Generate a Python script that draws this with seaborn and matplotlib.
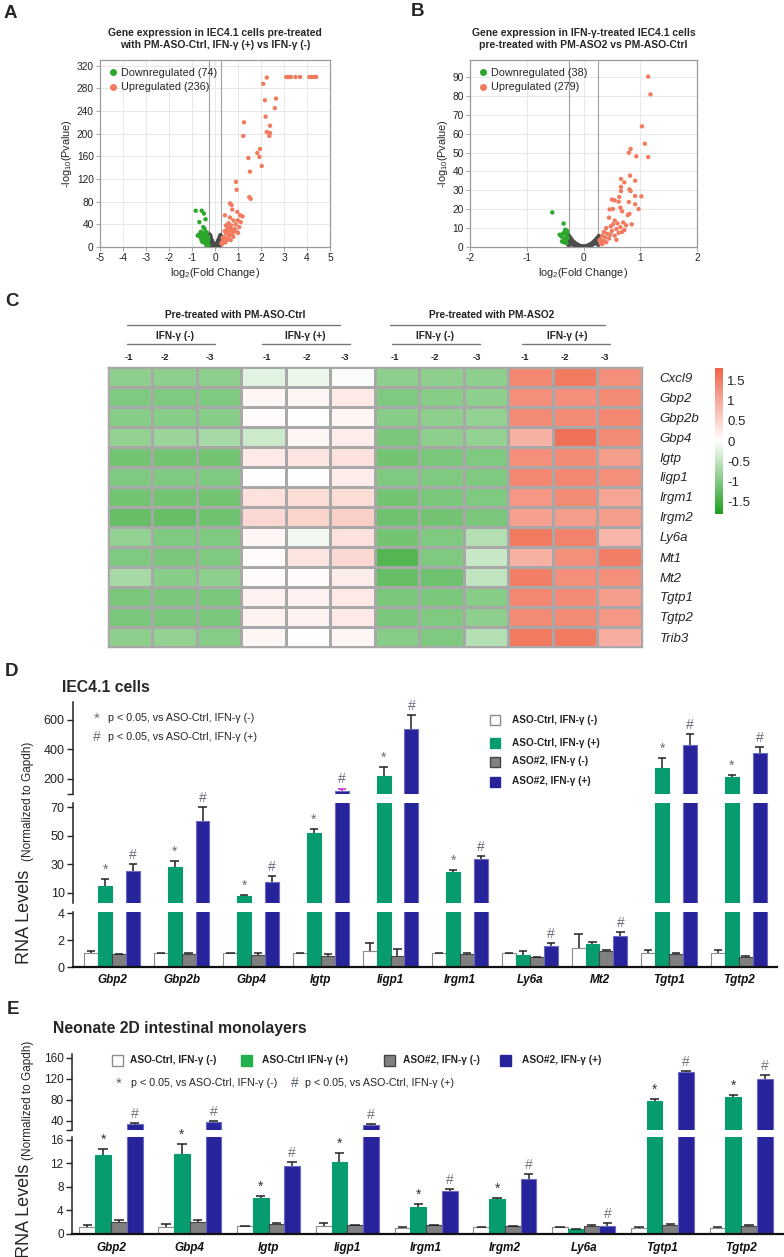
import numpy as np
import pandas as pd
import matplotlib
matplotlib.use('Agg')
import matplotlib.pyplot as plt
import seaborn as sns
from matplotlib.colors import LinearSegmentedColormap
from matplotlib.patches import Rectangle
from matplotlib.lines import Line2D

# ---------------- data: volcano A (PM-ASO-Ctrl, IFN+ vs IFN-) ----------------
a_ns_x = [-0.25, -0.24, -0.23, -0.22, -0.21, -0.2, -0.19, -0.18, -0.17, -0.16, -0.15, -0.14, -0.13, -0.12,
          -0.11, -0.1, -0.09, -0.08, -0.07, -0.06, -0.05, -0.04, -0.03, -0.02, -0.01, 0.0, 0.01, 0.02, 0.03,
          0.04, 0.05, 0.06, 0.07, 0.08, 0.09, 0.1, 0.11, 0.12, 0.13, 0.14, 0.15, 0.16, 0.17, 0.18, 0.19, 0.2,
          0.21, 0.22, 0.23, 0.24, 0.25, -0.22, -0.19, 0.17, 0.23, -0.24, 0.12, -0.13, 0.2, -0.2]
a_ns_y = [18, 12, 22, 8, 15, 5, 19, 10, 14, 3, 9, 12, 6, 2, 8, 4, 7, 1, 5, 2, 3, 1, 2, 0.5, 1, 0.3, 1.2, 0.6, 2,
          1.5, 3, 2.5, 4, 6, 3, 7, 5, 9, 4, 11, 7, 13, 9, 15, 6, 17, 11, 19, 8, 21, 14, 17, 2, 2, 3, 4, 1, 11, 10, 12]
a_dn_x = [-0.84, -0.58, -0.48, -0.68, -0.41, -0.51, -0.45, -0.62, -0.55, -0.7, -0.45, -0.38, -0.5, -0.6, -0.35,
          -0.42, -0.3, -0.55, -0.33, -0.4, -0.28, -0.47, -0.65, -0.36, -0.3, -0.52, -0.43, -0.29, -0.75, -0.58]
a_dn_y = [64, 64, 59, 44, 49, 35, 32, 27, 25, 22, 24, 20, 18, 15, 14, 12, 10, 9, 6, 4, 3, 15, 18, 26, 18, 21, 8,
          13, 20, 12]
a_up_x = [3.1, 3.2, 3.3, 3.5, 3.7, 4.1, 4.2, 4.3, 4.4, 2.25, 2.1, 2.17, 2.65, 2.6, 2.2, 2.39, 2.25, 2.39, 2.36,
          1.26, 1.23, 1.96, 1.84, 1.93, 2.03, 1.45, 1.52, 0.91, 0.94, 1.49, 1.55, 0.65, 0.72, 0.75, 0.97, 0.43,
          0.65, 1.09, 1.2, 0.99, 1.12, 0.59, 0.8, 0.55, 0.7, 0.85, 0.62, 0.48, 0.75, 0.9, 0.4, 0.55, 0.68, 0.35,
          0.45, 0.3, 0.62, 0.8, 1.0, 0.52, 0.38, 0.72, 0.58, 0.33, 0.42, 0.5, 0.9, 0.65, 1.05, 0.28, 0.47, 0.78]
a_up_y = [300, 300, 300, 300, 300, 300, 300, 300, 300, 299, 288, 259, 262, 245, 230, 214, 203, 201, 196, 220,
          196, 173, 166, 159, 143, 157, 133, 115, 101, 88, 85, 77, 74, 66, 62, 56, 52, 56, 54, 47, 44, 42, 47,
          35, 38, 32, 28, 25, 22, 28, 18, 15, 12, 10, 8, 5, 20, 18, 25, 30, 14, 30, 22, 16, 28, 12, 40, 33, 35,
          7, 38, 26]

# ---------------- data: volcano B (IFN-treated, PM-ASO2 vs PM-ASO-Ctrl) ----------------
b_ns_x = [-0.27, -0.26, -0.25, -0.24, -0.23, -0.22, -0.21, -0.2, -0.19, -0.18, -0.17, -0.16, -0.15, -0.14,
          -0.13, -0.12, -0.11, -0.1, -0.09, -0.08, -0.07, -0.06, -0.05, -0.04, -0.03, -0.02, -0.01, 0.0, 0.01,
          0.02, 0.03, 0.04, 0.05, 0.06, 0.07, 0.08, 0.09, 0.1, 0.11, 0.12, 0.13, 0.14, 0.15, 0.16, 0.17, 0.18,
          0.19, 0.2, 0.21, 0.22, 0.23, 0.24, 0.25, 0.26, 0.27, -0.26, 0.26, -0.22, 0.22]
b_ns_y = [6.5, 4, 5.5, 2.5, 4.8, 1.5, 3.8, 2.2, 3.2, 1.2, 2.6, 1.8, 2.1, 0.8, 1.6, 1.1, 1.3, 0.5, 0.9, 0.6, 0.7,
          0.3, 0.4, 0.2, 0.25, 0.1, 0.15, 0.05, 0.12, 0.2, 0.3, 0.22, 0.45, 0.4, 0.65, 0.5, 0.9, 0.7, 1.2, 0.9,
          1.5, 1.1, 2.0, 1.4, 2.5, 1.7, 3.1, 2.0, 3.6, 2.4, 4.3, 2.8, 5.0, 3.3, 5.8, 1.0, 1.2, 3.0, 3.5]
b_dn_x = [-0.55, -0.35, -0.32, -0.29, -0.36, -0.39, -0.34, -0.31, -0.3, -0.33, -0.38, -0.28, -0.35, -0.3,
          -0.42, -0.29]
b_dn_y = [18.3, 12.4, 9.2, 8.5, 7.1, 5.6, 4.4, 3.5, 6.2, 8.0, 3.0, 4.8, 2.5, 2.0, 6.5, 7.3]
b_up_x = [1.14, 1.18, 1.03, 1.08, 1.14, 0.83, 0.8, 0.93, 0.82, 0.91, 0.66, 0.72, 0.66, 0.66, 0.81, 0.83, 0.63,
          0.91, 1.02, 0.5, 0.55, 0.62, 0.8, 0.91, 0.97, 0.46, 0.52, 0.65, 0.68, 0.78, 0.81, 0.45, 0.55, 0.6,
          0.7, 0.48, 0.4, 0.58, 0.65, 0.75, 0.36, 0.42, 0.5, 0.33, 0.38, 0.45, 0.3, 0.35, 0.55, 0.62, 0.72, 0.3,
          0.4, 0.52, 0.85, 0.68, 0.28, 0.33, 0.47, 0.58]
b_up_y = [90.2, 80.8, 63.9, 54.7, 47.6, 51.9, 49.9, 48.0, 37.8, 35.1, 36.0, 34.2, 31.8, 29.6, 30.5, 29.6, 26.5,
          27.0, 26.8, 25.1, 24.7, 24.0, 23.8, 22.6, 20.1, 19.9, 20.1, 20.8, 18.9, 16.9, 17.5, 15.5, 14, 12.5,
          13, 11, 10, 9.5, 10.5, 11.5, 8, 7, 8.5, 6, 5, 4.5, 4, 3, 6, 7.5, 9, 2, 2.5, 12, 12, 8, 3.5, 1.5, 6.5,
          3.8]

# ---------------- data: heatmap C (z-scores) ----------------
hm_genes = ['Cxcl9', 'Gbp2', 'Gbp2b', 'Gbp4', 'Igtp', 'Iigp1', 'Irgm1', 'Irgm2', 'Ly6a', 'Mt1', 'Mt2',
            'Tgtp1', 'Tgtp2', 'Trib3']
hm_samples = ['C-1', 'C-2', 'C-3', 'C+1', 'C+2', 'C+3', 'A-1', 'A-2', 'A-3', 'A+1', 'A+2', 'A+3']
hm_values = [
    [-0.9, -0.9, -0.9, -0.25, -0.15, -0.05, -0.9, -0.9, -0.9, 1.4, 1.55, 1.3],
    [-1.0, -1.0, -1.0, 0.1, 0.1, 0.25, -1.0, -0.95, -0.9, 1.3, 1.3, 1.35],
    [-0.95, -0.95, -0.95, 0.05, 0.0, 0.1, -0.95, -0.9, -0.85, 1.35, 1.35, 1.4],
    [-0.85, -0.8, -0.7, -0.4, 0.1, 0.2, -1.05, -0.9, -0.85, 0.9, 1.65, 1.35],
    [-1.1, -1.1, -1.1, 0.25, 0.3, 0.35, -1.1, -1.05, -1.0, 1.3, 1.35, 1.15],
    [-1.0, -1.0, -1.0, 0.0, 0.0, 0.2, -1.0, -1.0, -1.0, 1.4, 1.4, 1.3],
    [-1.1, -1.1, -1.1, 0.35, 0.4, 0.4, -1.1, -1.05, -1.0, 1.2, 1.35, 1.05],
    [-1.2, -1.2, -1.15, 0.45, 0.5, 0.55, -1.15, -1.1, -1.05, 1.1, 1.15, 1.15],
    [-0.85, -1.0, -1.0, 0.1, -0.1, 0.35, -1.1, -1.0, -0.6, 1.55, 1.45, 0.85],
    [-1.0, -1.05, -1.0, 0.05, 0.3, 0.45, -1.35, -1.0, -0.45, 0.9, 1.3, 1.5],
    [-0.7, -0.95, -0.9, 0.05, 0.05, 0.2, -1.2, -1.15, -0.5, 1.5, 1.3, 1.3],
    [-1.05, -1.05, -1.05, 0.15, 0.15, 0.25, -1.05, -1.05, -0.95, 1.4, 1.35, 1.15],
    [-1.05, -1.05, -1.05, 0.15, 0.15, 0.25, -1.05, -1.0, -0.9, 1.35, 1.35, 1.2],
    [-0.9, -0.85, -0.95, 0.1, 0.0, 0.1, -0.95, -1.0, -0.6, 1.55, 1.55, 0.95],
]
cb_ticks = [1.5, 1, 0.5, 0, -0.5, -1, -1.5]
cb_labels = ['1.5', '1', '0.5', '0', '-0.5', '-1', '-1.5']

# ---------------- data: bars D (IEC4.1 cells) ----------------
d_genes = ['Gbp2', 'Gbp2b', 'Gbp4', 'Igtp', 'Iigp1', 'Irgm1', 'Ly6a', 'Mt2', 'Tgtp1', 'Tgtp2']
d_ctrl_neg = [1.05, 1.05, 1.05, 1.05, 1.2, 1.05, 1.05, 1.43, 1.05, 1.05]
d_ctrl_neg_err = [0.15, 0.03, 0.03, 0.02, 0.6, 0.03, 0.03, 1.0, 0.2, 0.23]
d_ctrl_pos = [14.7, 27.8, 7.5, 52.1, 220, 24.3, 0.93, 1.7, 273, 216]
d_ctrl_pos_err = [4.7, 4.7, 0.8, 2.8, 60, 1.6, 0.25, 0.13, 68, 9]
d_aso_neg = [0.95, 1.0, 0.9, 0.8, 0.85, 1.0, 0.75, 1.2, 0.95, 0.75]
d_aso_neg_err = [0.03, 0.05, 0.15, 0.15, 0.5, 0.05, 0.03, 0.05, 0.07, 0.1]
d_aso_pos = [25.4, 60.3, 17.3, 115, 539, 33.4, 1.55, 2.33, 427, 375]
d_aso_pos_err = [4.7, 9.7, 4.4, 20, 96, 2.6, 0.25, 0.3, 78, 41]
d_aso_pos_errc = ['#222222', '#222222', '#222222', '#cc22cc', '#222222', '#222222', '#222222', '#222222',
                  '#222222', '#222222']
d_star = [1, 1, 1, 1, 1, 1, 0, 0, 1, 1]
d_hash = [1, 1, 1, 1, 1, 1, 1, 1, 1, 1]

# ---------------- data: bars E (neonate 2D monolayers) ----------------
e_genes = ['Gbp2', 'Gbp4', 'Igtp', 'Iigp1', 'Irgm1', 'Irgm2', 'Ly6a', 'Tgtp1', 'Tgtp2']
e_ctrl_neg = [1.25, 1.25, 1.3, 1.4, 1.1, 1.15, 1.15, 1.1, 1.1]
e_ctrl_neg_err = [0.2, 0.45, 0.1, 0.5, 0.15, 0.08, 0.1, 0.15, 0.1]
e_ctrl_pos = [13.5, 13.6, 6.1, 12.25, 4.55, 5.95, 0.83, 77.5, 85.7]
e_ctrl_pos_err = [1.0, 1.7, 0.35, 1.55, 0.5, 0.15, 0.07, 3.8, 3.8]
e_aso_neg = [2.0, 2.05, 1.7, 1.5, 1.45, 1.3, 1.35, 1.45, 1.3]
e_aso_neg_err = [0.3, 0.35, 0.1, 0.1, 0.1, 0.1, 0.2, 0.3, 0.3]
e_aso_pos = [33, 37, 11.6, 31.2, 7.33, 9.4, 1.4, 132, 119.4]
e_aso_pos_err = [3, 2.4, 0.7, 2.5, 0.37, 0.8, 0.4, 3, 7]
e_star = [1, 1, 1, 1, 1, 1, 0, 1, 1]
e_hash = [1, 1, 1, 1, 1, 1, 1, 1, 1]

grp_names = ['ASO-Ctrl, IFN-γ (-)', 'ASO-Ctrl, IFN-γ (+)', 'ASO#2, IFN-γ (-)', 'ASO#2, IFN-γ (+)']
bar_colors = ['#ffffff', '#079b70', '#808080', '#27249b']
edge_colors = ['#8c8c8c', '#079b70', '#454545', '#6a6ac4']

GREEN = '#2ca62c'
RED = '#f27a5e'
GRAY = '#4d4d4d'

W, H = 784, 1257
sns.set_theme(style='white')
plt.rcParams['font.family'] = ['Liberation Sans', 'DejaVu Sans']
plt.rcParams['axes.unicode_minus'] = False
plt.rcParams['mathtext.fontset'] = 'custom'
plt.rcParams['mathtext.rm'] = 'Liberation Sans'
plt.rcParams['mathtext.it'] = 'Liberation Sans:italic'

fig = plt.figure(figsize=(W / 100, H / 100), dpi=100)


def px_axes(l, t, r, b):
    return fig.add_axes([l / W, 1 - b / H, (r - l) / W, (b - t) / H])


def volcano(box, ns, dn, up, labels, xlim, ylim, xticks, yticks, title):
    ax = px_axes(*box)
    df = pd.concat([
        pd.DataFrame({'x': ns[0], 'y': ns[1], 'grp': 'ns'}),
        pd.DataFrame({'x': dn[0], 'y': dn[1], 'grp': 'down'}),
        pd.DataFrame({'x': up[0], 'y': up[1], 'grp': 'up'}),
    ])
    sns.scatterplot(data=df, x='x', y='y', hue='grp', palette={'ns': GRAY, 'down': GREEN, 'up': RED},
                    s=10, linewidth=0, legend=False, ax=ax, zorder=3)
    ax.axvline(-0.263, color='#a0a0a0', lw=0.8, zorder=2)
    ax.axvline(0.263, color='#a0a0a0', lw=0.8, zorder=2)
    ax.set_xlim(*xlim)
    ax.set_ylim(*ylim)
    ax.set_xticks(xticks)
    ax.set_yticks(yticks)
    ax.grid(True, color='#e8e8e8', lw=0.7)
    ax.set_axisbelow(True)
    for s in ax.spines.values():
        s.set_color('#9a9a9a')
        s.set_linewidth(0.9)
    ax.tick_params(bottom=True, left=True, length=3, width=0.6, color='#9a9a9a', labelsize=7.3, pad=1.5,
                   labelcolor='#222222')
    ax.set_xlabel('log$_2$(Fold Change)', fontsize=7.8, labelpad=2)
    ax.set_ylabel('-log$_{10}$(Pvalue)', fontsize=7.8, labelpad=2)
    ax.set_title(title, fontsize=7.5, fontweight='bold', pad=9, linespacing=1.25)
    handles = [Line2D([], [], marker='o', ls='', color=GREEN, markersize=4, label=labels[0]),
               Line2D([], [], marker='o', ls='', color=RED, markersize=4, label=labels[1])]
    ax.legend(handles=handles, loc='upper left', frameon=False, fontsize=7.8, handletextpad=0.2,
              handlelength=1.0, borderaxespad=0.3, labelspacing=0.45, borderpad=0.4)
    return ax


volcano((100, 60, 330, 247), (a_ns_x, a_ns_y), (a_dn_x, a_dn_y), (a_up_x, a_up_y),
        ['Downregulated (74)', 'Upregulated (236)'], (-5, 5), (0, 330), range(-5, 6), range(0, 321, 40),
        'Gene expression in IEC4.1 cells pre-treated\nwith PM-ASO-Ctrl, IFN-γ (+) vs IFN-γ (-)')
volcano((470, 60, 697, 247), (b_ns_x, b_ns_y), (b_dn_x, b_dn_y), (b_up_x, b_up_y),
        ['Downregulated (38)', 'Upregulated (279)'], (-2, 2), (0, 99), range(-2, 3), range(0, 91, 10),
        'Gene expression in IFN-γ-treated IEC4.1 cells\npre-treated with PM-ASO2 vs PM-ASO-Ctrl')

# ---------------- heatmap C ----------------
hax = px_axes(107.5, 367, 641.5, 647)
cax = px_axes(715, 368, 723, 514)
cmap = LinearSegmentedColormap.from_list('gwr', ['#1c9e1c', '#ffffff', '#ef6549'])
hm_df = pd.DataFrame(hm_values, index=hm_genes, columns=hm_samples)
sns.heatmap(hm_df, ax=hax, cmap=cmap, vmin=-1.8, vmax=1.8, linewidths=1, linecolor='#a8a8a8',
            cbar_ax=cax, xticklabels=False, yticklabels=hm_genes)
for s in hax.spines.values():
    s.set_visible(True)
    s.set_color('#a8a8a8')
    s.set_linewidth(1)
hax.yaxis.tick_right()
hax.tick_params(axis='y', length=0, pad=13, labelsize=9.5, rotation=0, right=False, left=False)
for t in hax.get_yticklabels():
    t.set_fontstyle('italic')
hax.set_xlabel('')
hax.set_ylabel('')
cbar = hax.collections[0].colorbar
cbar.outline.set_visible(False)
cbar.set_ticks(cb_ticks)
cbar.set_ticklabels(cb_labels)
cax.tick_params(length=0, labelsize=9.5, pad=3, right=False)


# ---------------- bar panels D / E ----------------
def bar_panel(x0, x1, segs, genes, vals, errs, blue_errc, stars, hashes, xlim, gene_fs, gene_pad,
              tick_fs, star_color, hash_color):
    n = len(genes)
    long = pd.DataFrame({'gene': np.tile(genes, 4), 'group': np.repeat(grp_names, n),
                         'value': np.concatenate([np.asarray(v, float) for v in vals])})
    xs = np.arange(n)
    axes = []
    for i, (t, b, ylim, yt, ytl) in enumerate(segs):
        ax = px_axes(x0, t, x1, b)
        sns.barplot(data=long, x='gene', y='value', hue='group', order=genes, hue_order=grp_names,
                    palette=bar_colors, saturation=1, width=0.8, errorbar=None, legend=False, ax=ax)
        for cont, ec in zip(ax.containers, edge_colors):
            for p in cont:
                p.set_edgecolor(ec)
                p.set_linewidth(0.8)
        margin = 0.015 * (ylim[1] - ylim[0])
        for k in range(4):
            xk = xs - 0.3 + 0.2 * k
            v = np.asarray(vals[k], float)
            top = v + np.asarray(errs[k], float)
            cols = np.array(blue_errc if k == 3 else ['#222222'] * n)
            keep = top > ylim[0] + margin
            if not keep.any():
                continue
            ax.vlines(xk[keep], v[keep], top[keep], colors=cols[keep], lw=1.1, zorder=4)
            ax.hlines(top[keep], xk[keep] - 0.06, xk[keep] + 0.06, colors=cols[keep], lw=1.1, zorder=4)
        ax.set_xlim(*xlim)
        ax.set_ylim(*ylim)
        ax.set_yticks(yt)
        ax.set_yticklabels(ytl)
        ax.set_xlabel('')
        ax.set_ylabel('')
        ax.patch.set_alpha(0)
        for s in ['top', 'right']:
            ax.spines[s].set_visible(False)
        ax.spines['left'].set_color('#222222')
        ax.spines['left'].set_linewidth(1.1)
        ax.tick_params(axis='y', left=True, length=4, width=1, color='#222222', labelsize=tick_fs, pad=2,
                       labelcolor='#222222')
        if i == len(segs) - 1:
            ax.spines['bottom'].set_color('#111111')
            ax.spines['bottom'].set_linewidth(1.6)
            ax.set_xticks(xs)
            ax.set_xticklabels(genes, fontstyle='italic', fontweight='bold', fontsize=gene_fs)
            ax.tick_params(axis='x', bottom=False, length=0, pad=gene_pad, labelcolor='#111111')
        else:
            ax.spines['bottom'].set_visible(False)
            ax.tick_params(axis='x', bottom=False, labelbottom=False)
        axes.append(ax)
    # significance marks on the segment holding the error-bar top
    for k, flags, sym, col in [(1, stars, '*', star_color), (3, hashes, '#', hash_color)]:
        for j in range(n):
            if not flags[j]:
                continue
            top = vals[k][j] + errs[k][j]
            for ax, seg in zip(axes[::-1], segs[::-1]):
                if seg[2][0] <= top < seg[2][1]:
                    ax.annotate(sym, (j - 0.3 + 0.2 * k, top), xytext=(0, 1.5), textcoords='offset points',
                                ha='center', va='bottom', fontsize=10, color=col, annotation_clip=False)
                    break
    return axes


bar_panel(73, 777,
          [(702, 794, (98, 722), [98, 200, 400, 600], ['', '200', '400', '600']),
           (803, 903, (2.76, 73), [10, 30, 50, 70], ['10', '30', '50', '70']),
           (912, 967, (0, 4.1), [0, 2, 4], ['0', '2', '4'])],
          d_genes, [d_ctrl_neg, d_ctrl_pos, d_aso_neg, d_aso_pos],
          [d_ctrl_neg_err, d_ctrl_pos_err, d_aso_neg_err, d_aso_pos_err], d_aso_pos_errc,
          d_star, d_hash, (-0.56, 9.55), 8.5, 5, 9, '#6a6a7a', '#6a6a7a')

bar_panel(72, 783,
          [(1054, 1130, (22.3, 167), [22.3, 40, 80, 120, 160], ['', '40', '80', '120', '160']),
           (1137, 1234, (0, 16.5), [0, 4, 8, 12, 16], ['0', '4', '8', '12', '16'])],
          e_genes, [e_ctrl_neg, e_ctrl_pos, e_aso_neg, e_aso_pos],
          [e_ctrl_neg_err, e_ctrl_pos_err, e_aso_neg_err, e_aso_pos_err], ['#222222'] * len(e_genes),
          e_star, e_hash, (-0.495, 8.53), 8.5, 6, 8.5, '#333333', '#777777')

# ---------------- overlay: letters, headers, legends, labels ----------------
ov = fig.add_axes([0, 0, 1, 1])
ov.set_xlim(0, W)
ov.set_ylim(H, 0)
ov.axis('off')

for letter, lx, ly in [('A', 10, 13), ('B', 418, 12), ('C', 12, 301), ('D', 12, 672), ('E', 13, 1010)]:
    ov.text(lx, ly, letter, fontsize=13.5, fontweight='bold', ha='center', va='center')

# heatmap headers
hdr_kw = dict(fontsize=7.3, fontweight='bold', ha='center', va='center', color='#222222')
ov.text(235, 315, 'Pre-treated with PM-ASO-Ctrl', **hdr_kw)
ov.text(492, 315, 'Pre-treated with PM-ASO2', **hdr_kw)
ov.plot([127, 340], [325, 325], color='#777777', lw=1)
ov.plot([390, 605], [325, 325], color='#777777', lw=1)
for cx, lab, l0, l1 in [(175, 'IFN-γ (-)', 127, 215), (305, 'IFN-γ (+)', 262, 350),
                        (435, 'IFN-γ (-)', 392, 480), (567, 'IFN-γ (+)', 522, 610)]:
    ov.text(cx, 336, lab, **hdr_kw)
    ov.plot([l0, l1], [344, 344], color='#777777', lw=1)
col_x = [129, 165, 210, 267, 307, 345, 395, 435, 477, 525, 565, 605]
for cx, lab in zip(col_x, ['-1', '-2', '-3'] * 4):
    ov.text(cx, 357, lab, fontsize=6.8, fontweight='bold', ha='center', va='center', color='#222222')

# panel D titles & notes
ov.text(62, 687, 'IEC4.1 cells', fontsize=11.3, fontweight='bold', ha='left', va='center')
ov.text(97, 719, '*', fontsize=11, color='#6a6a7a', ha='center', va='center')
ov.text(108, 718, 'p < 0.05, vs ASO-Ctrl, IFN-γ (-)', fontsize=7.7, ha='left', va='center', color='#222222')
ov.text(97, 737, '#', fontsize=10, color='#6a6a7a', ha='center', va='center')
ov.text(108, 737, 'p < 0.05, vs ASO-Ctrl, IFN-γ (+)', fontsize=7.7, ha='left', va='center', color='#222222')
for yy, fc, ec, lab in zip([720, 742.5, 761.5, 781.5], bar_colors, ['#8c8c8c', '#079b70', '#454545', '#27249b'],
                           grp_names):
    ov.add_patch(Rectangle((490, yy - 5), 10, 10, facecolor=fc, edgecolor=ec, lw=1))
    ov.text(512, yy, lab, fontsize=7.2, fontweight='bold', ha='left', va='center', color='#222222')
ov.text(28, 861, '(Normalized to Gapdh)', rotation=90, fontsize=8.5, ha='center', va='bottom')
ov.text(25, 964, 'RNA Levels', rotation=90, fontsize=13, ha='center', va='bottom')

# panel E titles & notes
ov.text(53, 1029, 'Neonate 2D intestinal monolayers', fontsize=11.3, fontweight='bold', ha='left', va='center')
e_leg_x = [118, 247, 390, 506]
e_leg_tx = [130, 262, 403, 522]
e_leg_fc = ['#ffffff', '#22b14c', '#808080', '#27249b']
e_leg_ec = ['#8c8c8c', '#22b14c', '#454545', '#27249b']
e_leg_lab = ['ASO-Ctrl, IFN-γ (-)', 'ASO-Ctrl IFN-γ (+)', 'ASO#2, IFN-γ (-)', 'ASO#2, IFN-γ (+)']
for sx, tx, fc, ec, lab in zip(e_leg_x, e_leg_tx, e_leg_fc, e_leg_ec, e_leg_lab):
    ov.add_patch(Rectangle((sx - 5.5, 1054.5), 11, 11, facecolor=fc, edgecolor=ec, lw=1))
    ov.text(tx, 1060, lab, fontsize=7.3, fontweight='bold', ha='left', va='center', color='#222222')
ov.text(119, 1084, '*', fontsize=11, color='#556070', ha='center', va='center')
ov.text(131, 1083, 'p < 0.05, vs ASO-Ctrl, IFN-γ (-)', fontsize=7.7, ha='left', va='center', color='#222222')
ov.text(295, 1083, '#', fontsize=10, color='#556070', ha='center', va='center')
ov.text(305, 1083, 'p < 0.05, vs ASO-Ctrl, IFN-γ (+)', fontsize=7.7, ha='left', va='center', color='#222222')
ov.text(28, 1160, '(Normalized to Gapdh)', rotation=90, fontsize=8.5, ha='center', va='bottom')
ov.text(25, 1164, 'RNA Levels', rotation=90, fontsize=13, ha='center', va='top')

fig.savefig('out.png', dpi=100)
